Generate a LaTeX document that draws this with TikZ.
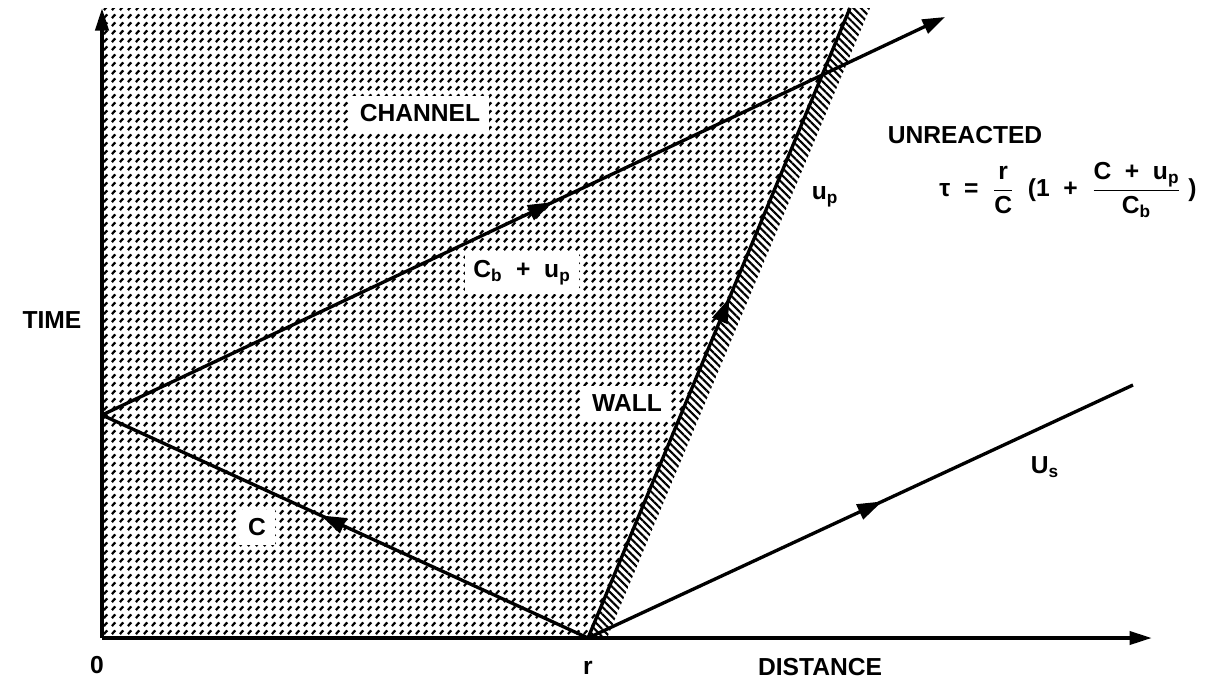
\documentclass[tikz,border=0pt]{standalone}
\usepackage{amsmath}
\usepackage{fontspec}
\setmainfont{Liberation Sans}
\usepackage{tikz}
\usetikzlibrary{arrows.meta,patterns,patterns.meta,decorations.markings}

\tikzdeclarepattern{
  name=halftone,
  type=uncolored,
  bounding box={(0pt,0pt) and (4.5pt,4.5pt)},
  tile size={(4.5pt,4.5pt)},
  code={\draw[line width=1.3pt] (1.1pt,1.1pt) -- (3.0pt,3.2pt);}
}

\begin{document}
\begin{tikzpicture}[x=0.2mm,y=-0.2mm,
    every node/.style={font=\bfseries\fontsize{14}{16}\selectfont},
    ax/.style={line width=2.2pt,-{Triangle[length=0.45cm,width=0.26cm]}},
    ray/.style={line width=1.9pt},
    midarrow/.style={postaction={decorate},
      decoration={markings,mark=at position #1 with {\arrow{Triangle[length=0.5cm,width=0.32cm]}}}},
    lbl/.style={fill=white,inner sep=5pt}]
  \useasboundingbox (0,0) rectangle (1227,683);

  % points of the x-t plane
  \coordinate (o)  at (102,638);
  \coordinate (r)  at (588,638);
  \coordinate (a)  at (102,415);
  \coordinate (w)  at (850,8);
  \coordinate (e)  at (945,17);
  \coordinate (s)  at (1133,385);
  \coordinate (tt) at (102,8);
  \coordinate (xx) at (1152,638);

  % channel and wall
  \fill[pattern=halftone] (o) -- (r) -- (w) -- (tt) -- cycle;
  \fill[pattern={Lines[angle=-45,distance=3pt,line width=1.2pt]}]
    (r) -- (w) -- (870,8) -- (607,638) -- cycle;

  % axes
  \draw[ax] (o) -- (tt);
  \draw[ax] (o) -- (xx);

  % waves
  \draw[ray,midarrow=0.55] (r) -- (a);
  \draw[ray,midarrow=0.535,-{Triangle[length=0.45cm,width=0.3cm]}] (a) -- (e);
  \draw[ray,midarrow=0.54] (r) -- (w);
  \draw[ray,midarrow=0.54] (r) -- (s);

  % labels
  \node[lbl] (channel) at (420,113) {CHANNEL};
  \node (unreacted) at (965,135) {UNREACTED};
  \node (time) at (52,320) {TIME};
  \node[lbl] (cbup) at (522,273) {C\textsubscript{b}\ \ +\ \ u\textsubscript{p}};
  \node[lbl] (wall) at (627,403) {WALL};
  \node[lbl] (clbl) at (257,527) {C};
  \node (up) at (825,197) {u\textsubscript{p}};
  \node (us) at (1045,467) {U\textsubscript{s}};
  \node (zero) at (97,665) {0};
  \node (rlbl) at (588,668) {r};
  \node (dist) at (820,667) {DISTANCE};
  \node (tau) at (1068,190) {τ\ \ =\ \ $\dfrac{\text{r}}{\text{C}}$\ \ (1\ \ +\ \ $\dfrac{\text{C\ \ +\ \ u\textsubscript{p}}}{\text{C\textsubscript{b}}}$\ )};
\end{tikzpicture}
\end{document}
